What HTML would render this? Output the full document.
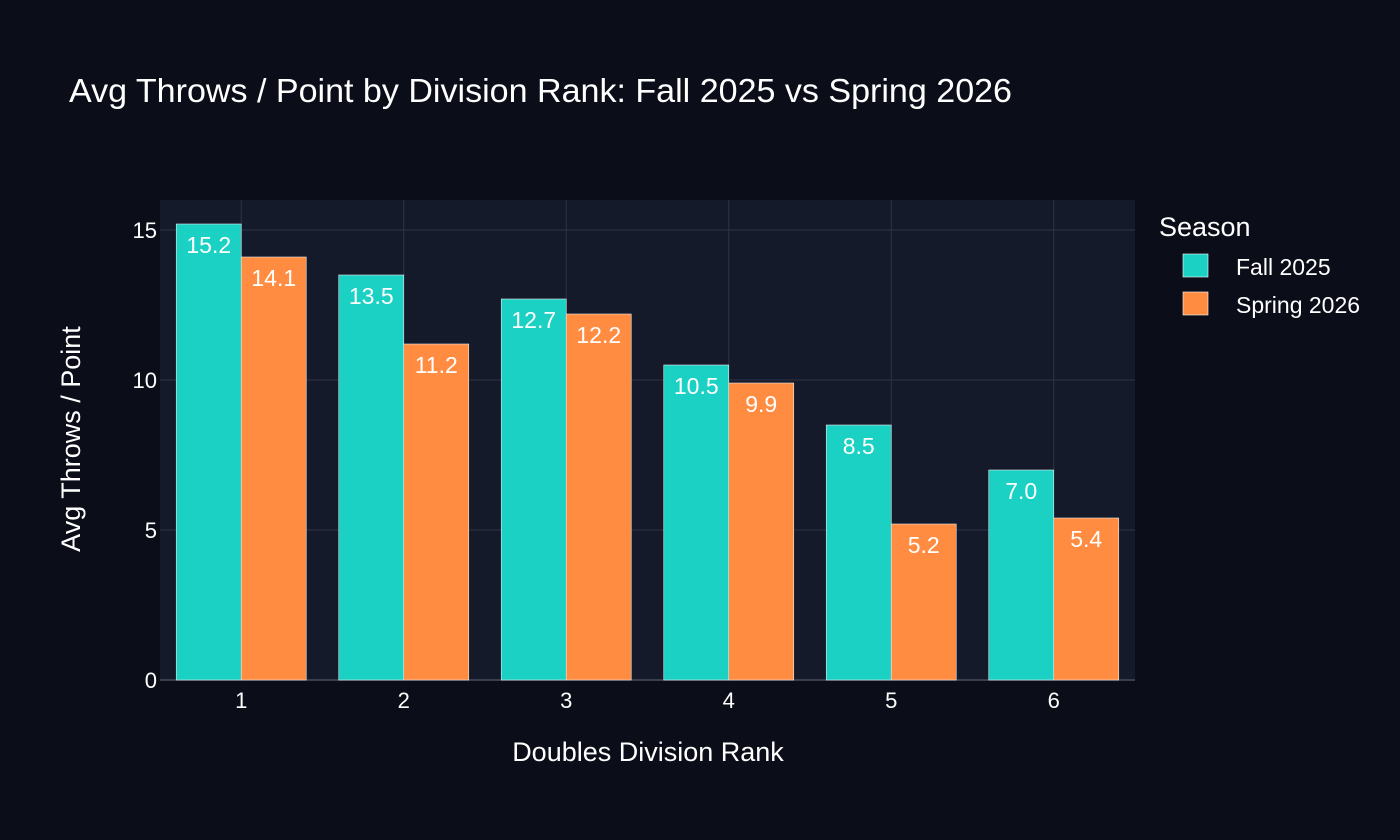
<!DOCTYPE html>
<html><head><meta charset="utf-8"><style>
body{margin:0;background:#0b0e19;}
svg{display:block;font-family:"Liberation Sans",Arial,sans-serif;}
</style></head><body>
<svg id="chart" width="1400" height="840">
<rect width="1400" height="840" fill="#0b0e19"/>
<text x="69" y="102" fill="#ffffff" font-size="33" textLength="943" lengthAdjust="spacingAndGlyphs">Avg Throws / Point by Division Rank: Fall 2025 vs Spring 2026</text>
<rect x="160" y="200" width="975" height="480" fill="#151a2b"/>
<g id="grid"></g>
<g id="bars"></g>
<g id="ticks"></g>
<text x="648" y="761" fill="#ffffff" font-size="27" text-anchor="middle">Doubles Division Rank</text>
<text transform="translate(80,439) rotate(-90)" fill="#ffffff" font-size="27" text-anchor="middle">Avg Throws / Point</text>
<text x="1159" y="236" fill="#ffffff" font-size="27">Season</text>
<g>
<rect x="1183" y="254" width="25" height="23" fill="#1ad1c4" stroke="#ffffff" stroke-width="0.6"/>
<text x="1236" y="275" fill="#ffffff" font-size="23">Fall 2025</text></g>
<g>
<rect x="1183" y="292" width="25" height="23" fill="#ff8c40" stroke="#ffffff" stroke-width="0.6"/>
<text x="1236" y="313" fill="#ffffff" font-size="23">Spring 2026</text></g>
</svg>
<script>
const categories = ["1","2","3","4","5","6"];
const fallValues = [15.2, 13.5, 12.7, 10.5, 8.5, 7.0];
const springValues = [14.1, 11.2, 12.2, 9.9, 5.2, 5.4];
const yTicks = [0, 5, 10, 15];
const NS = "http://www.w3.org/2000/svg";
const L=160,R=1135,T=200,B=680,YMAX=16;
const y = v => B - v/YMAX*(B-T);
const step=(R-L)/categories.length;
const xc = i => L + step*(i+0.5);
const bw = step*0.4;
function mk(tag,attrs,parent){const e=document.createElementNS(NS,tag);for(const k in attrs)e.setAttribute(k,attrs[k]);document.getElementById(parent).appendChild(e);return e;}
yTicks.forEach(t=>{
  const g=mk('line',{x1:L,x2:R,y1:y(t),y2:y(t),stroke:t===0?'#3a3f50':'#2e3344','stroke-width':t===0?2:1},'grid');
  
  
  const tx=mk('text',{x:L-3,y:y(t)+8,fill:'#fff','font-size':22,'text-anchor':'end'},'ticks');
  tx.textContent=t;
  
  
});
categories.forEach((c,i)=>{
  const g=mk('line',{x1:xc(i),x2:xc(i),y1:T,y2:B,stroke:'#2e3344','stroke-width':1},'grid');
  
  
  const tx=mk('text',{x:xc(i),y:708,fill:'#fff','font-size':22,'text-anchor':'middle'},'ticks');
  tx.textContent=c;
  
  
  [[fallValues,'#1ad1c4',-1,'fall'],[springValues,'#ff8c40',0,'spring']].forEach(([arr,col,off,nm])=>{
    const v=arr[i];const x0=xc(i)+off*bw;
    const r=mk('rect',{x:x0,y:y(v),width:bw,height:B-y(v),fill:col,stroke:'#e8e8e8','stroke-width':0.6},'bars');
    
    
    const t=mk('text',{x:x0+bw/2,y:y(v)+29,fill:'#fff','font-size':23,'text-anchor':'middle'},'bars');
    t.textContent=v.toFixed(1);
    
    
  });
});
</script>
</body></html>
